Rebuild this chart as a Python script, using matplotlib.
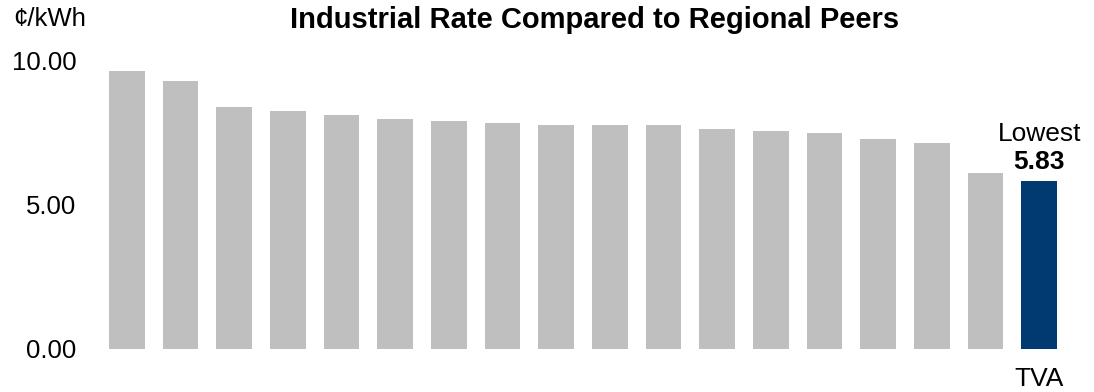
import matplotlib
matplotlib.use("Agg")
import matplotlib.pyplot as plt

plt.rcParams['font.family'] = ['Liberation Sans', 'DejaVu Sans']

categories = [""] * 17 + ["TVA"]
rates = [9.65, 9.31, 8.40, 8.26, 8.13, 7.99, 7.92, 7.85, 7.78, 7.78, 7.78,
         7.64, 7.57, 7.50, 7.29, 7.15, 6.11, 5.83]
highlight = "TVA"
y_ticks = [0, 5, 10]

gray = "#bfbfbf"
navy = "#003a70"

fig = plt.figure(figsize=(10.94, 3.92), dpi=100)
ax = fig.add_axes([100 / 1094, 43 / 392, 966 / 1094, 288 / 392])

x = list(range(len(rates)))
colors = [navy if c == highlight else gray for c in categories]
ax.bar(x, rates, width=0.67, color=colors)

ax.set_xlim(-0.5, len(rates) - 0.5)
ax.set_ylim(0, 10)
ax.set_yticks(y_ticks)
ax.set_yticklabels([f"{v:.2f}" for v in y_ticks], fontsize=18.5)
ax.set_xticks(x)
ax.set_xticklabels(categories, fontsize=19)
ax.tick_params(axis='y', length=0, pad=17)
ax.tick_params(axis='x', length=0, pad=13)
for s in ax.spines.values():
    s.set_visible(False)

idx = categories.index(highlight)
ax.annotate("Lowest", (idx, rates[idx]), xytext=(0, 25), textcoords="offset points",
            ha="center", va="bottom", fontsize=19)
ax.annotate(f"{rates[idx]:.2f}", (idx, rates[idx]), xytext=(0, 5), textcoords="offset points",
            ha="center", va="bottom", fontsize=19, fontweight="bold")

fig.text(13 / 1094, 1 - 19 / 392, "¢/kWh", fontsize=18.5, ha="left", va="center")
fig.text(595 / 1094, 1 - 20 / 392, "Industrial Rate Compared to Regional Peers",
         fontsize=21, fontweight="bold", ha="center", va="center")

fig.savefig("out.png", dpi=100)
